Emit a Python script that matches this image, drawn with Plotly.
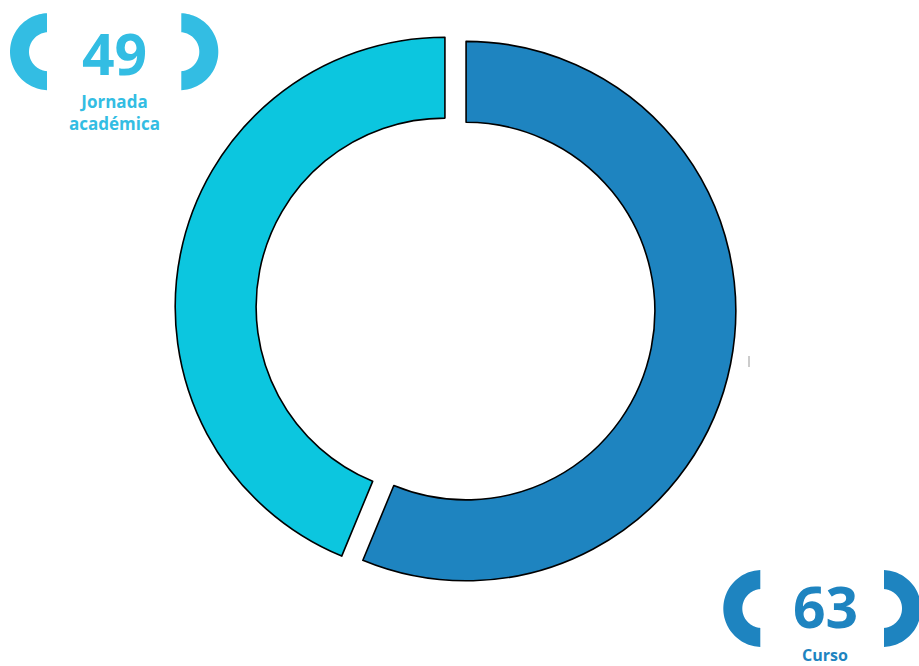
import numpy as np
import plotly.graph_objects as go

categories = ["Curso", "Jornada académica"]
values = [63, 49]
colors = ["#1e84c0", "#0cc6df"]
label_colors = ["#1e84c0", "#33bde3"]

W, H = 919, 666

fig = go.Figure()

# donut
cx, cy, D = 455.5, 309, 561
fig.add_trace(go.Pie(
    labels=categories, values=values, sort=False, direction="clockwise", rotation=0,
    hole=0.70, pull=[0.04, 0.04],
    marker=dict(colors=colors, line=dict(color="#000000", width=1.6)),
    textinfo="none", hoverinfo="label+value", showlegend=False,
    domain=dict(x=[(cx - D / 2) / W, (cx + D / 2) / W],
                y=[(H - cy - D / 2) / H, (H - cy + D / 2) / H]),
))

# invisible pixel axes for decorations (data coords == pixels)
fig.add_trace(go.Scatter(x=[0, W], y=[0, H], mode="markers",
                         marker=dict(opacity=0), hoverinfo="skip", showlegend=False))


def bracket(xc, yc, side, Ro=38.5, Ri=19.5, color="#000"):
    # side=+1 -> "(" bulging left ; side=-1 -> ")" bulging right
    a0 = np.arccos(-1.5 / Ro)
    b0 = np.arccos(-1.5 / Ri)
    ta = np.linspace(a0, 2 * np.pi - a0, 60)
    tb = np.linspace(2 * np.pi - b0, b0, 60)
    xo = xc + side * Ro * np.cos(ta)
    yo = yc + Ro * np.sin(ta)
    xi = xc + side * Ri * np.cos(tb)
    yi = yc + Ri * np.sin(tb)
    pts = list(zip(xo, yo)) + list(zip(xi, yi))
    path = "M " + " L ".join(f"{x:.2f},{y:.2f}" for x, y in pts) + " Z"
    fig.add_shape(type="path", path=path, xref="x", yref="y",
                  fillcolor=color, line=dict(width=0), layer="above")


groups = [
    (values[1], "Jornada<br>académica", 114.5, 53, label_colors[1], 48.5, 179.8, 51.7, 112, 17),
    (values[0], "Curso", 825, 606, label_colors[0], 761.8, 882.5, 608.5, 655, 16),
]
for val, txt, gx, gy, col, lbx, rbx, by, ty, fs in groups:
    bracket(lbx, by, +1, color=col)
    bracket(rbx, by, -1, color=col)
    fig.add_annotation(x=gx, y=gy, xref="x", yref="y", text=str(val), showarrow=False,
                       font=dict(family="Open Sans", size=57, color=col, weight="bold"),
                       xanchor="center", yanchor="middle")
    fig.add_annotation(x=gx, y=ty, xref="x", yref="y", text=txt, showarrow=False,
                       font=dict(family="Open Sans", size=fs, color=col, weight="bold"),
                       xanchor="center", yanchor="middle")

# small gray tick near the right of the ring
fig.add_shape(type="line", x0=749, x1=749, y0=356, y1=367, xref="x", yref="y",
              line=dict(color="#999999", width=1))

fig.update_layout(
    width=W, height=H, margin=dict(l=0, r=0, t=0, b=0),
    paper_bgcolor="white", plot_bgcolor="white",
    xaxis=dict(range=[0, W], visible=False, fixedrange=True),
    yaxis=dict(range=[H, 0], visible=False, fixedrange=True),
)

fig.write_html("out.html", config={"displayModeBar": False},
               post_script="document.body.style.margin='0';document.body.style.overflow='hidden';")
